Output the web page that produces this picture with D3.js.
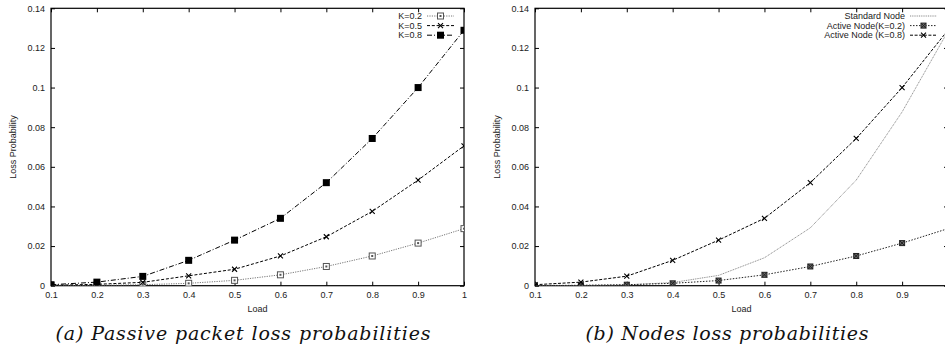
<!DOCTYPE html>
<html>
<head>
<meta charset="utf-8">
<script src="https://cdn.jsdelivr.net/npm/d3@7"></script>
<style>
  body { margin: 0; background: #fff; }
  svg { display: block; }
  .tick text { font-family: "Liberation Sans", Arial, sans-serif; font-size: 9px; fill: #222; }
  .lbl { font-family: "Liberation Sans", Arial, sans-serif; font-size: 9px; fill: #222; }
  .cap { font-family: "DejaVu Serif", serif; font-style: italic; font-size: 19px; fill: #111; }
</style>
</head>
<body>
<div id="chart"></div>
<script>
// values
var loads = [0.1, 0.2, 0.3, 0.4, 0.5, 0.6, 0.7, 0.8, 0.9, 1.0];
var xTicks = [0.1, 0.2, 0.3, 0.4, 0.5, 0.6, 0.7, 0.8, 0.9, 1];
var yTicks = [0, 0.02, 0.04, 0.06, 0.08, 0.1, 0.12, 0.14];

var k02 = [0.0001, 0.0002, 0.0005, 0.0012, 0.0027, 0.0055, 0.0097, 0.015, 0.0215, 0.0288];
var k05 = [0.0002, 0.0007, 0.0017, 0.005, 0.0083, 0.015, 0.0247, 0.0375, 0.0533, 0.0706];
var k08 = [0.0005, 0.0018, 0.0047, 0.0128, 0.023, 0.034, 0.052, 0.0743, 0.1, 0.1289];

var standardNode = [0, 0.0001, 0.0004, 0.0016, 0.0052, 0.0141, 0.0292, 0.0533, 0.0877, 0.1285];
var activeK02 = [0.0001, 0.0002, 0.0005, 0.0012, 0.0026, 0.0055, 0.0097, 0.015, 0.0215, 0.0288];
var activeK08 = [0.0005, 0.0018, 0.0048, 0.0128, 0.023, 0.034, 0.052, 0.0743, 0.1, 0.129];

var W = 945, H = 353;
var svg = d3.select("#chart").append("svg").attr("width", W).attr("height", H);
svg.append("rect").attr("width", W).attr("height", H).attr("fill", "#fff");

function marker(g, type, cx, cy, color) {
  if (type == "openSquare") {
    g.append("rect").attr("x", cx - 3).attr("y", cy - 3).attr("width", 6).attr("height", 6)
      .attr("fill", "#fff").attr("stroke", color).attr("stroke-width", 1);
    g.append("rect").attr("x", cx - 1).attr("y", cy - 1).attr("width", 2).attr("height", 2).attr("fill", color);
  } else if (type == "filledSquare") {
    g.append("rect").attr("x", cx - 3.5).attr("y", cy - 3.5).attr("width", 7).attr("height", 7).attr("fill", color);
  } else if (type == "cross") {
    g.append("path").attr("d", `M${cx-2.5},${cy-2.5}L${cx+2.5},${cy+2.5}M${cx-2.5},${cy+2.5}L${cx+2.5},${cy-2.5}`)
      .attr("stroke", color).attr("stroke-width", 1.1);
  } else if (type == "starSquare") {
    g.append("rect").attr("x", cx - 2.5).attr("y", cy - 2.5).attr("width", 5).attr("height", 5)
      .attr("fill", "#666").attr("stroke", color).attr("stroke-width", 1);
    g.append("path").attr("d", `M${cx-2.5},${cy-2.5}L${cx+2.5},${cy+2.5}M${cx-2.5},${cy+2.5}L${cx+2.5},${cy-2.5}`)
      .attr("stroke", color).attr("stroke-width", 1);
  }
}

function drawPanel(opts) {
  var x = d3.scaleLinear().domain([0.1, 1]).range([opts.left, opts.left + 413]);
  var y = d3.scaleLinear().domain([0, 0.14]).range([285.7, 8.3]);
  var g = svg.append("g");

  var clip = "clip" + opts.id;
  svg.append("clipPath").attr("id", clip).append("rect")
    .attr("x", x(0.1)).attr("y", y(0.14)).attr("width", x(1) - x(0.1)).attr("height", y(0) - y(0.14));

  var fmt = d3.format("~g");
  // the right panel is cut by the page edge, so its last label is not visible
  var xfmt = d => (x(d) > W - 6 ? "" : fmt(d));
  g.append("g").attr("transform", `translate(0,${y(0)})`)
    .call(d3.axisBottom(x).tickValues(xTicks).tickSize(-4).tickPadding(6).tickFormat(xfmt))
    .call(a => a.select(".domain").remove());
  g.append("g").attr("transform", `translate(0,${y(0.14)})`)
    .call(d3.axisTop(x).tickValues(xTicks).tickSize(-4).tickFormat(""))
    .call(a => a.select(".domain").remove());
  g.append("g").attr("transform", `translate(${x(0.1)},0)`)
    .call(d3.axisLeft(y).tickValues(yTicks).tickSize(-4).tickPadding(6).tickFormat(fmt))
    .call(a => a.select(".domain").remove());
  g.append("g").attr("transform", `translate(${x(1)},0)`)
    .call(d3.axisRight(y).tickValues(yTicks).tickSize(-4).tickFormat(""))
    .call(a => a.select(".domain").remove());
  g.selectAll(".tick line").attr("stroke", "#000");

  g.append("rect").attr("x", x(0.1)).attr("y", y(0.14))
    .attr("width", x(1) - x(0.1)).attr("height", y(0) - y(0.14))
    .attr("fill", "none").attr("stroke", "#000").attr("stroke-width", 1.2);

  g.append("text").attr("class", "lbl").attr("text-anchor", "middle")
    .attr("transform", `translate(${opts.left - 35},${y(0.07)}) rotate(-90)`)
    .text("Loss Probability");
  g.append("text").attr("class", "lbl").attr("text-anchor", "middle")
    .attr("x", (x(0.1) + x(1)) / 2).attr("y", 312).text("Load");

  var line = d3.line().x((d, i) => x(loads[i])).y(d => y(d));
  var plot = g.append("g").attr("clip-path", `url(#${clip})`);

  opts.series.forEach(function(s, si) {
    plot.append("path").datum(s.values).attr("d", line)
      .attr("fill", "none").attr("stroke", s.color).attr("stroke-width", s.width || 1)
      .attr("stroke-dasharray", s.dash);
    if (s.marker) {
      s.values.forEach(function(v, i) { marker(plot, s.marker, x(loads[i]), y(v), s.mcolor || s.color); });
    }
    // legend
    var ly = 16 + si * 9.6;
    g.append("text").attr("class", "lbl").attr("text-anchor", "end")
      .attr("x", opts.legX).attr("y", ly + 3.2).text(s.name);
    g.append("line").attr("x1", opts.legX + 5).attr("x2", opts.legX + 32).attr("y1", ly).attr("y2", ly)
      .attr("stroke", s.color).attr("stroke-width", s.width || 1).attr("stroke-dasharray", s.dash);
    if (s.marker) marker(g, s.marker, opts.legX + 18.5, ly, s.mcolor || s.color);
  });

  g.append("text").attr("class", "cap").attr("text-anchor", "middle")
    .attr("x", opts.capX).attr("y", 340)
    .attr("textLength", opts.capLen).attr("lengthAdjust", "spacing")
    .text(opts.caption);
}

drawPanel({
  id: "a", left: 51, legX: 422, capX: 243, capLen: 375,
  caption: "(a) Passive packet loss probabilities",
  series: [
    { name: "K=0.2", values: k02, color: "#777", dash: "1.2,1.2", marker: "openSquare", mcolor: "#555" },
    { name: "K=0.5", values: k05, color: "#000", dash: "3,1.8", marker: "cross" },
    { name: "K=0.8", values: k08, color: "#000", dash: "5,2,1,2", marker: "filledSquare" }
  ]
});

drawPanel({
  id: "b", left: 535, legX: 905, capX: 727, capLen: 283,
  caption: "(b) Nodes loss probabilities",
  series: [
    { name: "Standard Node", values: standardNode, color: "#888", dash: "1,0.8", width: 1 },
    { name: "Active Node(K=0.2)", values: activeK02, color: "#222", dash: "1.5,1.5", marker: "starSquare" },
    { name: "Active Node (K=0.8)", values: activeK08, color: "#000", dash: "3,1.6", marker: "cross" }
  ]
});
</script>
</body>
</html>
